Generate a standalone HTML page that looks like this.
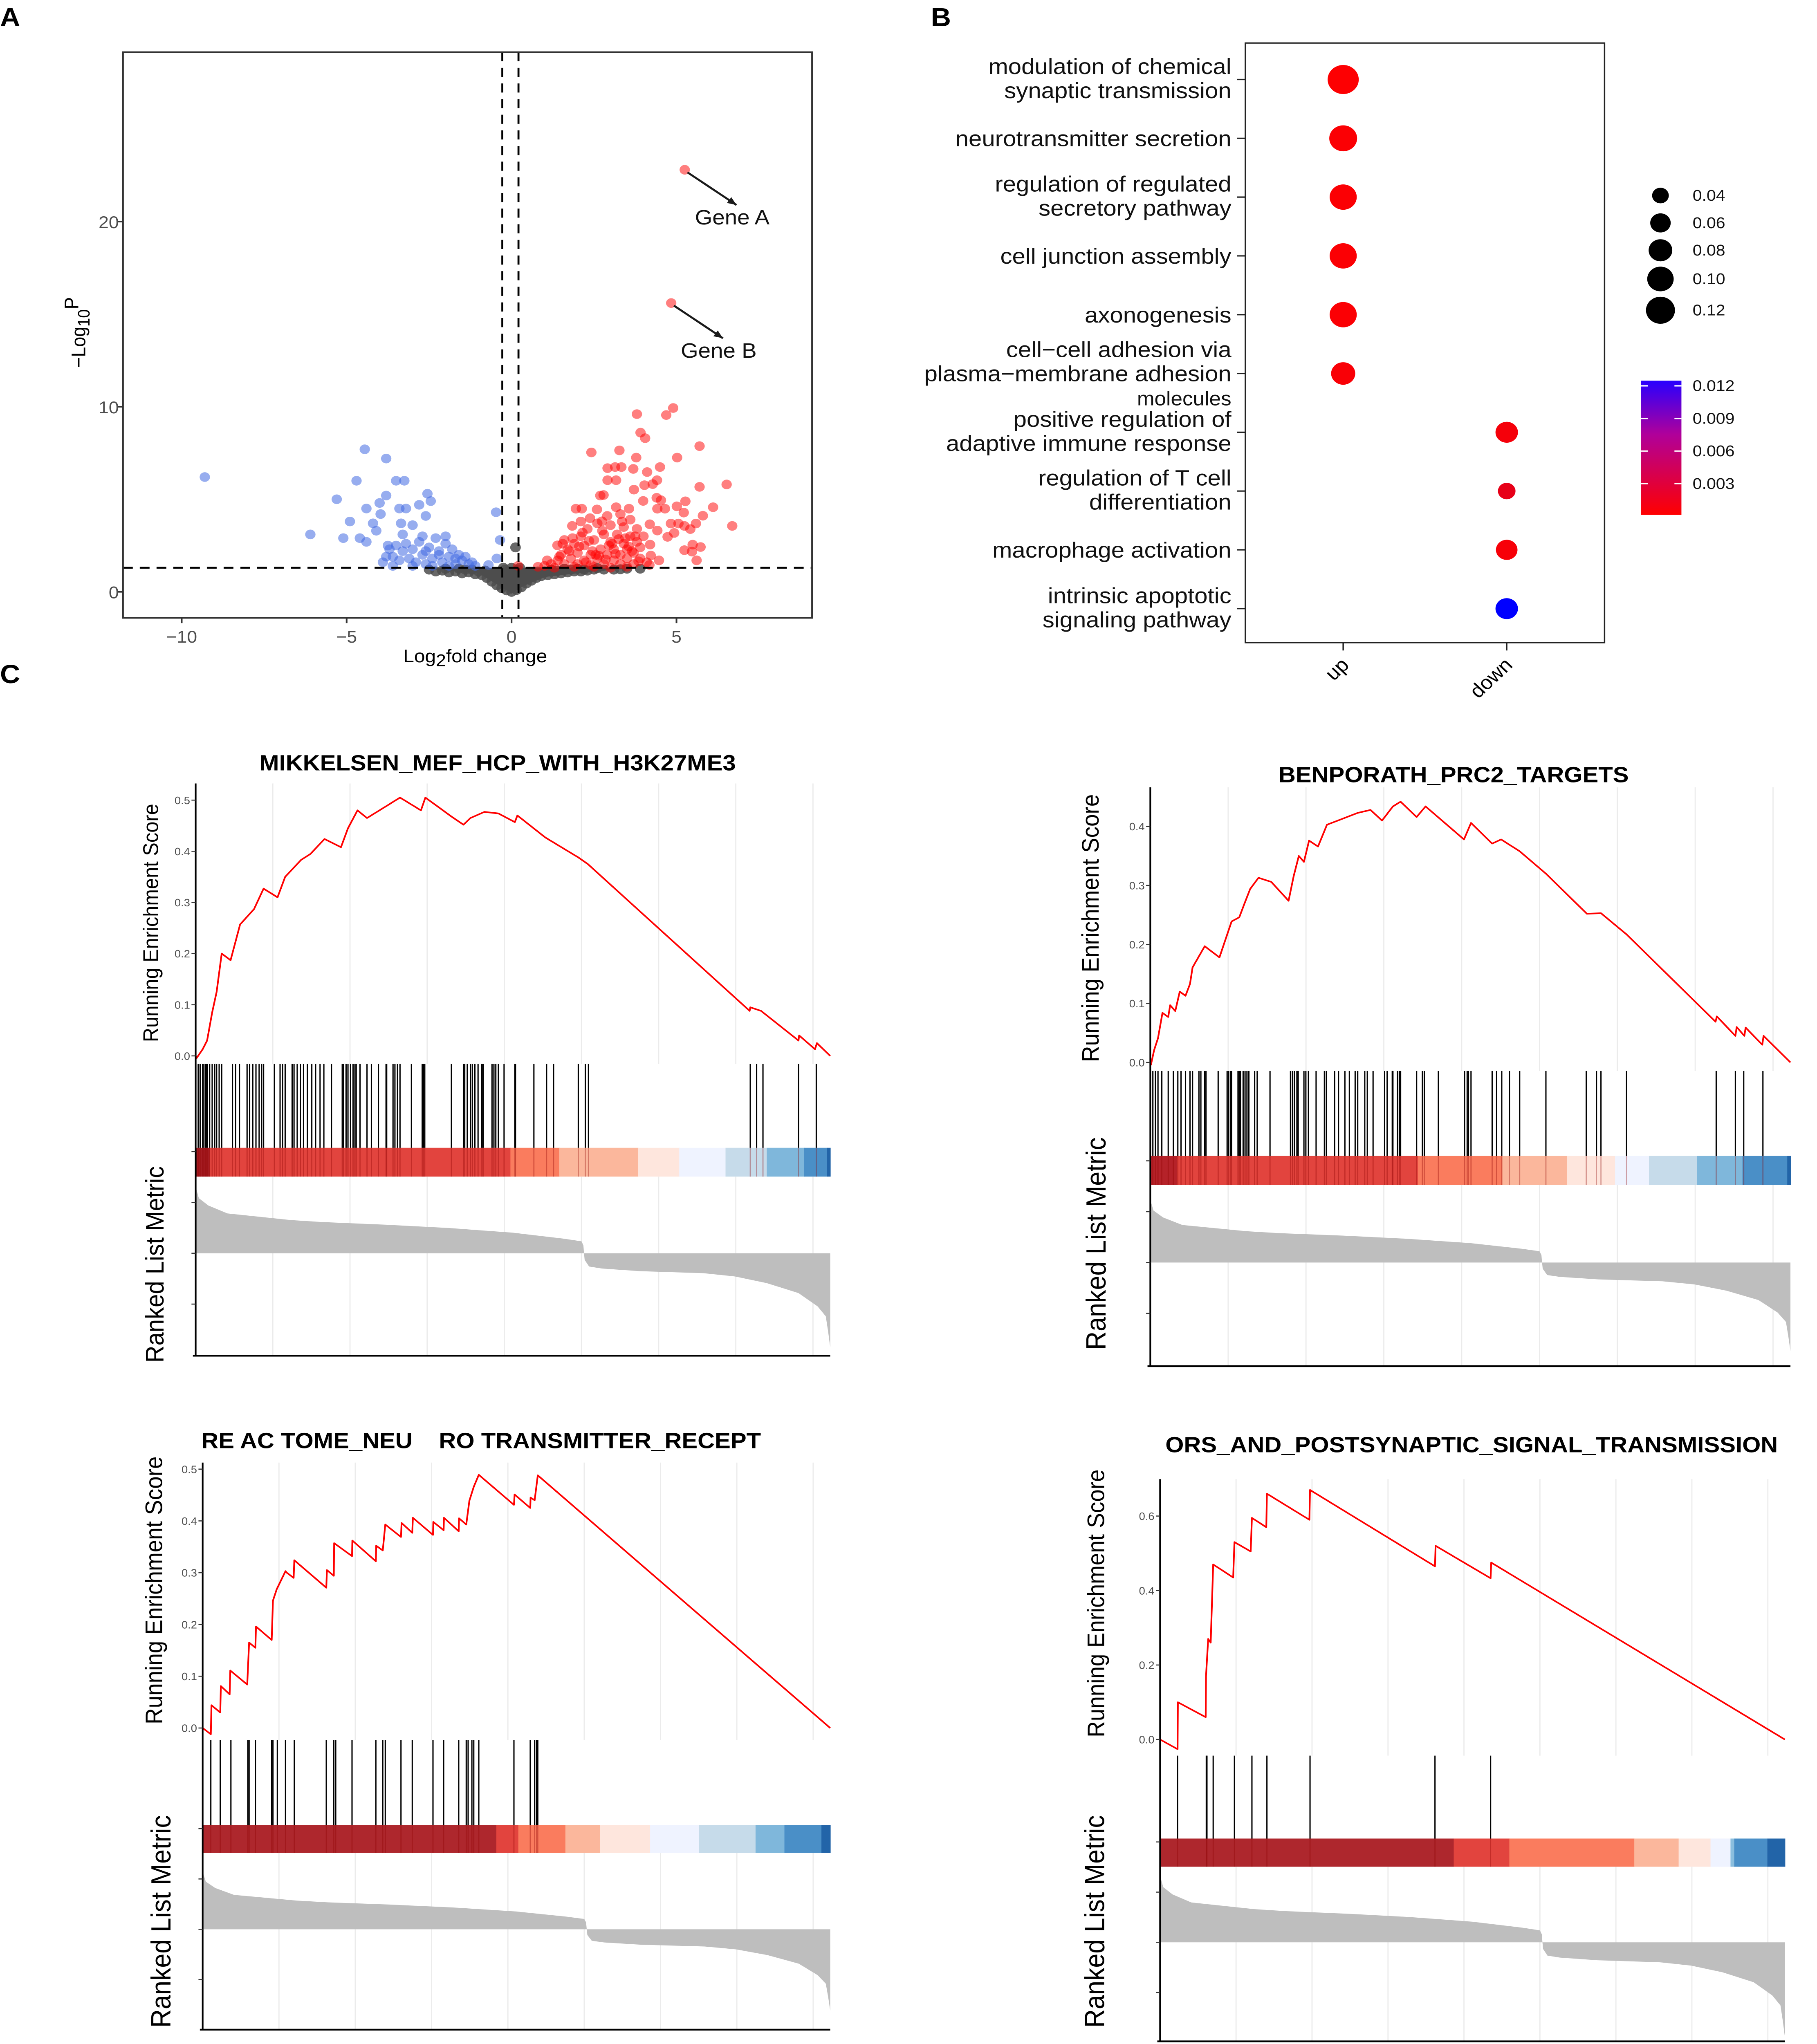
<!DOCTYPE html>
<html><head><meta charset="utf-8">
<style>
html,body{margin:0;padding:0;background:#fff;overflow:hidden;width:100vw;height:100vh;}
#fig{display:block;position:fixed;left:0;top:0;width:100vw;height:100vh;font-family:"Liberation Sans",Arial,sans-serif;}
</style></head>
<body>
<svg id="fig" xmlns="http://www.w3.org/2000/svg" viewBox="0 0 1300 1568" preserveAspectRatio="none"></svg>
<script>
// ===== Panel A data (volcano) =====
const volcXTicks = [-10, -5, 0, 5];
const volcYTicks = [0, 10, 20];
const fcCutoffs = [-0.28, 0.21];
const pCutoff = 1.3;
const blueX = [-9.3,-6.1,-5.3,-5.1,-4.9,-4.7,-4.6,-4.45,-4.4,-4.4,-4.2,-4.1,-4.0,-3.97,-3.8,-3.8,-3.75,-3.5,-3.4,-3.35,-3.25,-3.2,-3.0,-2.8,-2.6,-2.55,-2.45,-0.47,-0.35,-0.45,
 -3.9,-3.7,-3.6,-3.5,-3.4,-3.3,-3.2,-3.1,-3.0,-2.9,-2.8,-2.7,-2.6,-2.5,-2.4,-2.3,-2.2,-2.1,-2.0,-1.9,-1.8,-1.7,-1.6,-1.5,-1.4,-1.3,-1.2,-3.6,-3.0,-2.4,-1.9,-2.7,-3.3,-2.0,-1.1,-0.7,-2.2,-2.6,-1.7,-3.8];
const blueY = [6.2,3.1,5.0,2.9,3.8,6.0,2.9,7.7,4.5,2.7,3.7,3.3,4.8,4.2,5.2,7.2,2.5,6.0,4.5,3.7,6.0,4.5,3.6,4.7,4.1,5.3,4.9,4.3,2.8,1.8,
 1.6,2.3,1.9,2.5,1.7,2.2,2.6,1.8,2.3,1.6,2.7,2.0,1.5,2.4,1.8,2.9,2.2,1.6,2.6,1.9,2.3,1.5,2.0,1.7,1.9,1.5,1.6,1.4,1.4,1.4,1.4,3.0,3.1,3.0,1.4,1.45,2.0,2.2,1.8,1.9];
const redX = [2.42,3.27,3.8,4.69,4.9,3.91,4.05,5.7,3.78,5.02,2.91,3.14,3.33,3.69,4.11,4.5,2.91,3.17,4.03,4.28,4.41,3.71,5.7,6.52,2.79,2.69,3.99,4.4,4.53,5.27,5.01,5.22,6.11,5.8,5.59,6.69,4.65,4.42,4.83,5.06,5.24,5.42,4.93,4.73,5.24,5.49,5.73,5.47,5.61,4.47,4.18,4.22,4.2,4.42,4.19,1.95,2.13,2.59,3.17,3.56,2.38,2.74,1.84,1.39,1.08,0.2,
 1.2,1.4,1.5,1.6,1.7,1.8,1.9,2.0,2.0,2.1,2.2,2.2,2.3,2.4,2.4,2.5,2.6,2.6,2.7,2.8,2.8,2.9,3.0,3.0,3.1,3.1,3.2,3.3,3.3,3.4,3.4,3.5,3.5,3.6,3.6,3.7,3.7,3.8,3.8,3.9,3.9,1.3,1.9,2.5,3.0,3.5,2.9,3.3,2.1,1.6,4.0,4.1,1.0,0.8,
 1.45,1.75,2.05,2.35,2.65,2.95,3.25,3.55,3.85,1.55,1.85,2.15,2.45,2.75,3.05,3.35,3.65,2.25,2.55,2.85,3.15,3.45,3.75];
const redY = [7.53,7.64,9.6,9.55,9.93,8.6,8.3,7.87,7.25,7.25,6.68,6.74,6.74,6.64,6.47,6.74,6.03,6.03,5.76,5.82,6.03,5.52,5.67,5.8,5.23,5.2,4.91,5.08,4.95,4.89,4.62,4.28,4.57,4.11,3.69,3.56,4.49,4.49,3.69,3.69,3.56,3.39,3.18,2.97,2.25,2.55,2.42,2.17,1.7,1.7,1.45,1.96,2.55,3.31,3.65,4.49,4.49,4.45,4.57,4.49,3.98,3.81,3.56,2.51,1.7,1.4,
 1.5,1.7,2.0,1.5,2.3,1.8,2.6,1.5,2.1,3.0,1.7,2.5,3.4,2.0,1.45,2.8,3.7,1.8,2.3,3.1,1.5,2.0,2.7,3.6,1.7,2.3,3.1,1.5,2.0,2.6,3.5,1.8,2.3,3.0,3.9,1.5,2.1,2.7,3.4,1.8,2.4,1.3,1.35,1.35,1.3,1.35,4.1,4.2,3.8,2.8,3.0,1.6,1.4,1.35,
 1.9,2.2,2.45,2.75,1.95,2.5,2.85,2.45,1.65,2.6,2.9,3.2,2.2,3.3,2.6,3.8,2.2,1.6,2.0,1.75,2.05,2.9,3.0];
const greyX = [-2.5,-2.3,-2.1,-1.9,-1.7,-1.5,-1.3,-1.1,-0.9,-0.75,-0.6,-0.45,-0.3,-0.15,0,0.15,0.3,0.45,0.6,0.75,0.9,1.1,1.3,1.5,1.7,1.9,2.1,2.3,2.5,2.8,3.1,3.5,3.9,-2.0,-1.6,-1.2,-0.8,-0.5,-0.3,-0.1,0,0.1,0.3,0.5,0.8,1.2,1.6,2.0,2.6,-0.2,0.2,-0.05,0.05,-0.2,0.2,0.12,-1.4,-1.0,1.0,1.4,1.8,2.2,3.3,-0.1,0.1,0,-0.25,0.25];
const greyY = [1.2,1.1,1.15,1.05,1.1,1.0,1.05,0.95,0.9,0.75,0.55,0.35,0.2,0.08,0.0,0.1,0.25,0.45,0.6,0.75,0.85,0.9,0.95,1.0,1.05,1.1,1.1,1.15,1.2,1.2,1.2,1.25,1.25,1.25,1.25,1.2,1.15,1.0,0.8,0.6,0.9,0.5,0.9,1.0,1.1,1.2,1.25,1.25,1.28,1.2,1.2,0.3,0.3,0.5,0.6,2.4,1.2,1.1,1.1,1.15,1.2,1.2,1.22,1.1,1.1,1.3,1.3,1.3];
const geneNames = ["Gene A","Gene B"];
const geneX = [5.25, 4.84];
const geneY = [22.8, 15.6];

// ===== Panel B data (dot plot) =====
const goTerms = [["modulation of chemical","synaptic transmission"],["neurotransmitter secretion"],["regulation of regulated","secretory pathway"],["cell junction assembly"],["axonogenesis"],["cell\u2212cell adhesion via","plasma\u2212membrane adhesion","molecules"],["positive regulation of","adaptive immune response"],["regulation of T cell","differentiation"],["macrophage activation"],["intrinsic apoptotic","signaling pathway"]];
const goGroups = ["up","down"];
const goGroupIdx = [0,0,0,0,0,0,1,1,1,1];
const goRatio = [0.125,0.10,0.095,0.095,0.095,0.075,0.065,0.04,0.06,0.065];
const goPval = [0.0001,0.0002,0.0002,0.0002,0.0002,0.0003,0.0005,0.0012,0.0004,0.0125];
const sizeLegendVals = [0.04,0.06,0.08,0.10,0.12];
const colorLegendVals = [0.012,0.009,0.006,0.003];

// ===== Panel C data (GSEA) =====
const gridRanks = [121.6,243.2,364.8,486.4,608,729.6,851.2,972.8];
const metricRank = [0,3,5,20,50,100,150,200,300,400,500,580,608,611,612,613,620,640,700,800,850,900,950,980,993,997,1000];
const metricVal = [1.0,0.9,0.83,0.72,0.6,0.55,0.5,0.47,0.43,0.38,0.31,0.22,0.18,0.12,0,-0.1,-0.2,-0.23,-0.27,-0.3,-0.35,-0.45,-0.6,-0.8,-0.95,-1.2,-1.42];

const es1Rank = [0,1,11,18,26,33,41,55,70,92,107,129,141,166,181,203,229,240,255,270,300,322,355,362,403,422,433,455,477,503,507,551,603,618,873,874,891,950,951,976,979,1000];
const es1Val = [0,-0.005,0.013,0.03,0.085,0.125,0.2,0.187,0.257,0.287,0.327,0.31,0.35,0.383,0.395,0.424,0.408,0.445,0.48,0.465,0.488,0.505,0.48,0.505,0.468,0.452,0.465,0.477,0.474,0.457,0.47,0.427,0.388,0.375,0.088,0.095,0.088,0.03,0.04,0.013,0.025,0];
const hits1 = [4,7,11,13,16,18,22,26,30,33,37,41,58,63,69,81,85,90,95,100,104,107,124,133,137,141,152,155,160,165,170,176,183,189,196,202,214,231,233,237,240,244,248,251,253,259,270,277,288,300,301,311,314,318,322,340,357,359,361,403,422,424,428,433,436,440,445,451,453,467,470,473,477,486,503,504,533,553,564,603,614,619,874,884,894,950,978];
const bar1Start = [0,22,496,573,697,762,835,900,959,995];
const bar1Color = ["#A51C22","#E2443E","#FA7C5E","#FBB79C","#FEE6DD","#EFF3FF","#C6DBEA","#7FB7DB","#4A8FC7","#2264A8"];
const es1Ticks = [0,0.1,0.2,0.3,0.4,0.5];

const es2Rank = [0,1,6,12,19,28,31,39,46,55,62,66,85,108,127,139,147,156,169,189,216,224,232,240,248,262,276,293,324,344,362,379,391,416,430,490,501,534,548,577,618,682,704,744,883,885,914,916,928,930,956,958,1000];
const es2Val = [0,-0.004,0.021,0.041,0.084,0.077,0.097,0.087,0.12,0.113,0.133,0.161,0.197,0.178,0.239,0.246,0.269,0.294,0.313,0.306,0.274,0.316,0.35,0.34,0.376,0.366,0.403,0.41,0.423,0.428,0.41,0.434,0.442,0.416,0.434,0.378,0.406,0.371,0.378,0.358,0.32,0.252,0.253,0.217,0.069,0.078,0.045,0.06,0.045,0.059,0.03,0.045,0];
const hits2 = [4,8,12,18,28,36,43,48,55,62,66,76,79,85,87,106,120,122,125,127,137,139,141,145,148,151,154,163,167,187,219,222,225,229,231,240,243,247,259,272,275,288,294,304,311,320,324,335,339,348,366,370,378,379,386,389,391,416,425,428,450,491,495,497,501,534,541,549,561,577,618,681,697,704,744,884,914,927,957];
const bar2Start = [0,42,418,550,651,726,779,854,925,995];
const bar2Color = ["#B52229","#E2443E","#FA7C5E","#FBB79C","#FEE6DD","#EFF3FF","#C6DBEA","#7FB7DB","#4A8FC7","#2264A8"];
const es2Ticks = [0,0.1,0.2,0.3,0.4];

const es3Rank = [0,13,14,28,29,43,44,71,74,84,85,110,112,118,132,134,145,146,197,198,209,209.5,238,238.5,276,276.5,287,291,316,317,334,335,367,367.5,384,384.5,408,408.5,420,425,432,440,496,497,522,522.5,529,534,1000];
const es3Val = [0,-0.012,0.044,0.03,0.081,0.065,0.111,0.084,0.165,0.155,0.196,0.17,0.246,0.268,0.303,0.3,0.29,0.324,0.271,0.305,0.294,0.357,0.332,0.362,0.322,0.352,0.343,0.393,0.369,0.396,0.377,0.406,0.373,0.398,0.382,0.406,0.38,0.405,0.393,0.439,0.466,0.489,0.431,0.451,0.425,0.445,0.44,0.488,0];
const hits3 = [13,28,45,72,74,84,110,112,119,132,146,197,209,212,238,276,287,291,316,334,367,384,408,420,423,429,432,440,496,522,529,532,534];
const bar3Start = [0,468,503,578,633,713,791,881,927,986];
const bar3Color = ["#AE272D","#E2443E","#FA7C5E","#FBB79C","#FEE6DD","#EFF3FF","#C6DBEA","#7FB7DB","#4A8FC7","#2264A8"];
const es3Ticks = [0,0.1,0.2,0.3,0.4,0.5];

const es4Rank = [0,28,28.5,73,73.5,77,81,85,117,119,145,147,170,171,239,240,440,441,529,530,1000];
const es4Val = [0,-0.026,0.1,0.06,0.17,0.27,0.26,0.47,0.435,0.53,0.505,0.595,0.57,0.66,0.59,0.67,0.465,0.52,0.433,0.475,0];
const hits4 = [28,74,75,85,119,147,171,240,440,529];
const bar4Start = [0,470,559,759,830,881,913,919,972];
const bar4Color = ["#AE272D","#E2443E","#FA7C5E","#FBB79C","#FEE6DD","#EFF3FF","#8BBEDE","#4A8FC7","#2264A8"];
const es4Ticks = [0,0.2,0.4,0.6];

const NS = 'http://www.w3.org/2000/svg';
const svg = document.getElementById('fig');
function mk(tag, attrs, parent){ const e=document.createElementNS(NS,tag); for(const k in attrs) e.setAttribute(k,attrs[k]); (parent||svg).appendChild(e); return e; }
function txt(str, attrs, parent){ const t=mk('text',attrs,parent); t.textContent=str; return t; }

[["A",0,20],["B",666,20],["C",0,524]].forEach(p=>{
  const t=txt(p[0],{x:p[1],y:p[2],'font-size':20,'font-weight':'bold'});
  
  
});

// ===== Panel A =====
(function(){
  const g=mk('g',{});
  
  
  const X=v=>366+v*23.6, Y=v=>454-v*14.2;
  const L=88,R=581,T=40,B=474;
  const pts=mk('g',{},g);
  
  
  greyX.forEach((x,i)=>{const c=mk('circle',{cx:X(x),cy:Y(greyY[i]),r:3.8,fill:'#4D4D4D','fill-opacity':0.85},pts);
    
    });
  const band=mk('path',{d:`M${X(-2.6)},${Y(1.25)} L${X(-1)},${Y(1.0)} L${X(-0.35)},${Y(0.3)} L${X(0)},${Y(-0.1)} L${X(0.35)},${Y(0.3)} L${X(1)},${Y(0.8)} L${X(2.5)},${Y(1.1)} L${X(3.5)},${Y(1.25)} L${X(3.5)},${Y(1.3)} L${X(-2.6)},${Y(1.3)} Z`,fill:'#4D4D4D'},pts);
  
  
  blueX.forEach((x,i)=>{const c=mk('circle',{cx:X(x),cy:Y(blueY[i]),r:3.7,fill:'#4169E1','fill-opacity':0.55},pts);
    
    });
  redX.forEach((x,i)=>{const c=mk('circle',{cx:X(x),cy:Y(redY[i]),r:3.7,fill:'#FF0000','fill-opacity':0.5},pts);
    
    });
  geneX.forEach((x,i)=>{const c=mk('circle',{cx:X(x),cy:Y(geneY[i]),r:3.7,fill:'#FF0000','fill-opacity':0.5},pts);
    
    });
  fcCutoffs.forEach(v=>{const l=mk('line',{x1:X(v),x2:X(v),y1:T,y2:B,stroke:'#000','stroke-width':1.4,'stroke-dasharray':'7,5'},g);
    
    });
  const hl=mk('line',{x1:L,x2:R,y1:Y(pCutoff),y2:Y(pCutoff),stroke:'#000','stroke-width':1.4,'stroke-dasharray':'7,5'},g);
  
  
  geneX.forEach((x,i)=>{
    const x1=X(x)+2,y1=Y(geneY[i])+2,x2=X(x)+37,y2=Y(geneY[i])+27;
    const a=mk('line',{x1:x1,y1:y1,x2:x2,y2:y2,stroke:'#1a1a1a','stroke-width':1.5},g);
    
    
    const ang=Math.atan2(y2-y1,x2-x1);
    const hx=x2-7*Math.cos(ang-0.4),hy=y2-7*Math.sin(ang-0.4),kx=x2-7*Math.cos(ang+0.4),ky=y2-7*Math.sin(ang+0.4);
    const h=mk('path',{d:`M${x2},${y2} L${hx},${hy} L${kx},${ky} Z`,fill:'#1a1a1a'},g);
    
    
    const t=txt(geneNames[i],{x:X(x)+34,y:Y(geneY[i])+42,'font-size':16,'text-anchor':'middle',fill:'#111'},g);
    
    
  });
  const box=mk('rect',{x:L,y:T,width:R-L,height:B-T,fill:'none',stroke:'#333','stroke-width':1.2},g);
  
  
  volcXTicks.forEach(v=>{
    const tk=mk('line',{x1:X(v),x2:X(v),y1:B,y2:B+4,stroke:'#333','stroke-width':1.2},g);
    
    
    const t=txt(v<0?'\u2212'+(-v):String(v),{x:X(v),y:B+19,'font-size':13,'text-anchor':'middle',fill:'#4D4D4D'},g);
    
    
  });
  volcYTicks.forEach(v=>{
    const tk=mk('line',{x1:L-4,x2:L,y1:Y(v),y2:Y(v),stroke:'#333','stroke-width':1.2},g);
    
    
    const t=txt(String(v),{x:L-3,y:Y(v)+5,'font-size':13,'text-anchor':'end',fill:'#4D4D4D'},g);
    
    
  });
  const xt=mk('text',{x:340,y:508,'font-size':14,'text-anchor':'middle'},g);
  
  
  xt.innerHTML='Log<tspan dy="3" font-size="13">2</tspan><tspan dy="-3">fold change</tspan>';
  const yt=mk('text',{x:0,y:0,'font-size':14,'text-anchor':'middle',transform:'translate(61,255) rotate(-90)'},g);
  
  
  yt.innerHTML='\u2212Log<tspan dy="3" font-size="12">10</tspan><tspan dy="-8">P</tspan>';
})();

// ===== Panel B =====
(function(){
  const g=mk('g',{});
  
  
  const L=891,R=1148,T=33,B=493;
  const catY=i=>61+i*45.1, grpX=i=>961+i*117;
  const rad=v=>Math.sqrt(v)*31.5;
  const col=p=>{const f=Math.min(1,p/0.0125);return `rgb(${Math.round(255*(1-f))},0,${Math.round(255*f)})`;};
  const box=mk('rect',{x:L,y:T,width:R-L,height:B-T,fill:'none',stroke:'#222','stroke-width':1},g);
  
  
  goTerms.forEach((lines,i)=>{
    const tk=mk('line',{x1:L-6,x2:L,y1:catY(i),y2:catY(i),stroke:'#222','stroke-width':1},g);
    
    
    const n=lines.length;
    lines.forEach((s,j)=>{
      const y=catY(i)+6+(j-(n-1)/2)*18.5 - (n===2?1:0);
      const t=txt(s,{x:L-10,y:y,'font-size':17,'text-anchor':'end',fill:'#111'},g);
      if(n===3&&j===2){t.setAttribute('font-size','15');}
      
      
    });
    const c=mk('circle',{cx:grpX(goGroupIdx[i]),cy:catY(i),r:rad(goRatio[i]),fill:col(goPval[i])},g);
    
    
  });
  goGroups.forEach((s,i)=>{
    const tk=mk('line',{x1:grpX(i),x2:grpX(i),y1:B,y2:B+6,stroke:'#222','stroke-width':1},g);
    
    
    const t=txt(s,{x:0,y:0,'font-size':15,'text-anchor':'end',transform:`translate(${grpX(i)+5},${B+18}) rotate(-45)`},g);
    
    
  });
  const ly=[150,171,192,214,238];
  sizeLegendVals.forEach((v,i)=>{
    const c=mk('circle',{cx:1188,cy:ly[i],r:rad(v)*0.95,fill:'#000'},g);
    
    
    const t=txt(v.toFixed(2),{x:1211,y:ly[i]+4,'font-size':12,fill:'#111'},g);
    
    
  });
  const defs=mk('defs',{},g);
  const lg=mk('linearGradient',{id:'pg',x1:0,y1:0,x2:0,y2:1},defs);
  mk('stop',{offset:'0','stop-color':'#2800FF'},lg);
  mk('stop',{offset:'0.4','stop-color':'#B0009A'},lg);
  mk('stop',{offset:'1','stop-color':'#FF0000'},lg);
  const cb=mk('rect',{x:1174,y:292,width:29,height:103,fill:'url(#pg)'},g);
  
  
  colorLegendVals.forEach((v,i)=>{
    const y=296+i*25;
    const t1=mk('line',{x1:1174,x2:1179,y1:y,y2:y,stroke:'#fff','stroke-width':1},g);
    
    
    const t2=mk('line',{x1:1198,x2:1203,y1:y,y2:y,stroke:'#fff','stroke-width':1},g);
    
    
    const t=txt(v.toFixed(3),{x:1211,y:y+4,'font-size':12,fill:'#111'},g);
    
    
  });
})();

// ===== Panel C =====
function gsea(name,cfg,esRank,esVal,hits,barStart,barColor,esTicks){
  const g=mk('g',{});
  
  
  const X=r=>cfg.x0+(cfg.x1-cfg.x0)*r/1000;
  const Y=v=>cfg.es0+(cfg.es0-cfg.esRef)*(-v)/cfg.esRefVal;
  const M=v=>cfg.mz+(cfg.mz-cfg.mt)*(-v);
  gridRanks.forEach(r=>{
    [[cfg.top,cfg.rugTop],[cfg.barBot,cfg.bot]].forEach(s=>{
      const l=mk('line',{x1:X(r),x2:X(r),y1:s[0],y2:s[1],stroke:'#EBEBEB','stroke-width':0.8},g);
      
      
    });
  });
  let d=`M${X(0)},${M(0)}`;
  metricRank.forEach((r,i)=>{ d+=` L${X(r)},${M(metricVal[i])}`; });
  d+=` L${X(1000)},${M(0)} Z`;
  const ma=mk('path',{d:d,fill:'#BEBEBE'},g);
  
  
  barStart.forEach((s,i)=>{
    const e=i+1<barStart.length?barStart[i+1]:1000;
    const r=mk('rect',{x:X(s),y:cfg.rugBot,width:X(e)-X(s)+0.3,height:cfg.barBot-cfg.rugBot,fill:barColor[i]},g);
    
    
  });
  hits.forEach(h=>{
    const l=mk('line',{x1:X(h),x2:X(h),y1:cfg.rugTop,y2:cfg.rugBot,stroke:'#000','stroke-width':0.9},g);
    
    
    const l2=mk('line',{x1:X(h),x2:X(h),y1:cfg.rugBot,y2:cfg.barBot,stroke:'#8B0000','stroke-width':0.8,'stroke-opacity':0.35},g);
    
    
  });
  let p='';
  esRank.forEach((r,i)=>{ p+=(i?' L':'M')+X(r)+','+Y(esVal[i]); });
  const es=mk('path',{d:p,fill:'none',stroke:'#FF0000','stroke-width':1.2,'stroke-linejoin':'round'},g);
  
  
  const ax=mk('line',{x1:cfg.x0,x2:cfg.x0,y1:cfg.top,y2:cfg.bot,stroke:'#000','stroke-width':1.2},g);
  
  
  const bx=mk('line',{x1:cfg.x0-2,x2:cfg.x1,y1:cfg.bot,y2:cfg.bot,stroke:'#000','stroke-width':1.4},g);
  
  
  esTicks.forEach(v=>{
    const tk=mk('line',{x1:cfg.x0-3,x2:cfg.x0,y1:Y(v),y2:Y(v),stroke:'#333','stroke-width':0.8},g);
    
    
    const t=txt(v.toFixed(1),{x:cfg.x0-4,y:Y(v)+3,'font-size':8,'text-anchor':'end',fill:'#4D4D4D'},g);
    
    
  });
  [-2,-1,0,1].forEach(k=>{
    const y=cfg.mz+k*cfg.mstep;
    if(y>cfg.bot+0.5) return;
    const tk=mk('line',{x1:cfg.x0-3,x2:cfg.x0,y1:y,y2:y,stroke:'#333','stroke-width':0.8},g);
    
    
  });
  const tt=txt(cfg.title,{x:cfg.tx,y:cfg.ty,'font-size':17,'font-weight':'bold','text-anchor':cfg.anchor,fill:'#000'},g);
  tt.style.whiteSpace='pre';
  
  
  const y1=txt('Running Enrichment Score',{x:0,y:0,'font-size':cfg.yl1s,'text-anchor':'middle',transform:`translate(${cfg.yl1x},${cfg.yl1y}) rotate(-90)`},g);
  
  
  const y2=txt('Ranked List Metric',{x:0,y:0,'font-size':cfg.yl2s,'text-anchor':'middle',transform:`translate(${cfg.yl2x},${cfg.yl2y}) rotate(-90)`},g);
  
  
}

gsea('gsea-mikkelsen',{x0:140,x1:594,top:601,es0:810,esRef:613.8,esRefVal:0.5,rugTop:816,rugBot:880.5,barBot:902.6,mt:910.5,mz:961.4,mstep:39,bot:1040,
  title:'MIKKELSEN_MEF_HCP_WITH_H3K27ME3',tx:356,ty:591,anchor:'middle',yl1x:113,yl1y:708,yl1s:15.3,yl2x:117,yl2y:970,yl2s:18.2},
  es1Rank,es1Val,hits1,bar1Start,bar1Color,es1Ticks);
gsea('gsea-benporath',{x0:823,x1:1281,top:604,es0:815,esRef:634,esRefVal:0.4,rugTop:821.6,rugBot:886.7,barBot:909,mt:920.5,mz:968.5,mstep:39,bot:1048,
  title:'BENPORATH_PRC2_TARGETS',tx:1040,ty:600,anchor:'middle',yl1x:786,yl1y:712,yl1s:17.2,yl2x:791,yl2y:954,yl2s:19.7},
  es2Rank,es2Val,hits2,bar2Start,bar2Color,es2Ticks);
gsea('gsea-reactome',{x0:145,x1:594,top:1122,es0:1325.6,esRef:1127,esRefVal:0.5,rugTop:1335,rugBot:1400,barBot:1421.5,mt:1436,mz:1480,mstep:38.6,bot:1557,
  title:'RE AC TOME_NEU    RO TRANSMITTER_RECEPT',tx:144,ty:1111,anchor:'start',yl1x:116,yl1y:1220,yl1s:17.2,yl2x:122,yl2y:1474,yl2s:19.7},
  es3Rank,es3Val,hits3,bar3Start,bar3Color,es3Ticks);
gsea('gsea-postsynaptic',{x0:830,x1:1277,top:1134.7,es0:1334.4,esRef:1163,esRefVal:0.6,rugTop:1346.8,rugBot:1410.4,barBot:1432,mt:1439,mz:1490,mstep:38.5,bot:1566,
  title:'ORS_AND_POSTSYNAPTIC_SIGNAL_TRANSMISSION',tx:1272,ty:1114,anchor:'end',yl1x:790,yl1y:1230,yl1s:17.2,yl2x:790,yl2y:1474,yl2s:19.7},
  es4Rank,es4Val,hits4,bar4Start,bar4Color,es4Ticks);
</script>
</body></html>
